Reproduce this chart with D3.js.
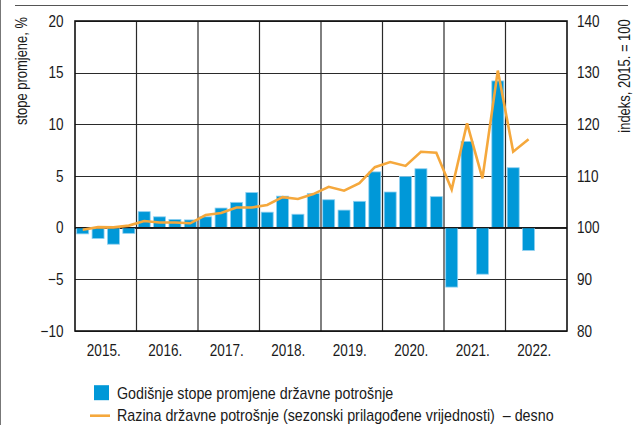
<!DOCTYPE html>
<html><head><meta charset="utf-8">
<script src="https://cdn.jsdelivr.net/npm/d3@7"></script>
<style>
html,body{margin:0;padding:0;background:#fff;}
svg{display:block;}
text{font-family:"Liberation Sans",Arial,sans-serif;fill:#1a1a1a;white-space:pre;}
</style></head>
<body>
<svg id="chart" width="637" height="425"></svg>
<script>
const years = ["2015.","2016.","2017.","2018.","2019.","2020.","2021.","2022."];
const quarters = [];
years.forEach(y => { for (let q = 1; q <= 4; q++) quarters.push(y + "Q" + q); });
const growthRates = [-0.6,-1.05,-1.6,-0.55, 1.55,1.05,0.8,0.75, 1.05,1.9,2.45,3.4, 1.5,3.05,1.3,3.3, 2.7,1.7,2.55,5.4, 3.45,4.95,5.7,3.0, -5.75,8.35,-4.5,14.2, 5.8,-2.2];
const levelIndex = [99.6,100.1,100.05,100.4, 101.3,101.0,101.0,100.85, 102.45,102.85,103.9,103.9, 104.4,105.9,105.55,106.5, 107.9,107.15,108.6,111.7, 112.7,111.95,114.7,114.5, 107.4,120.2,109.55,130.4, 114.7,117.1];
const leftTicks = [-10,-5,0,5,10,15,20];
const rightTicks = [80,90,100,110,120,130,140];
const leftTitle = "stope promjene, %";
const rightTitle = "indeks, 2015. = 100";
const legendBars = "Godišnje stope promjene državne potrošnje";
const legendLine = "Razina državne potrošnje (sezonski prilagođene vrijednosti)  – desno";

const svg = d3.select("#chart");
const L = 75, R = 567, T = 21, B = 331;
const barColor = "#0098d8", lineColor = "#f5a83c";

const xq = d3.scaleBand().domain(quarters).range([L, R]).paddingInner(0.22).paddingOuter(0.11);
const xy = d3.scaleBand().domain(years).range([L, R]);
const yL = d3.scaleLinear().domain([-10, 20]).range([B, T]);
const yR = d3.scaleLinear().domain([80, 140]).range([B, T]);

function narrow(k) {
  return sel => sel.each(function () {
    const w = this.getComputedTextLength();
    d3.select(this).attr("textLength", w * k).attr("lengthAdjust", "spacingAndGlyphs");
  });
}

// outer decorations
svg.append("line").attr("x1",0.5).attr("x2",0.5).attr("y1",0).attr("y2",425).attr("stroke","#777").attr("stroke-width",1);
svg.append("line").attr("x1",15).attr("x2",628).attr("y1",5.5).attr("y2",5.5).attr("stroke","#555").attr("stroke-width",1);

// horizontal grid
svg.append("g").selectAll("line").data(leftTicks).join("line")
  .attr("x1", L).attr("x2", R)
  .attr("y1", d => Math.round(yL(d)) + 0.5).attr("y2", d => Math.round(yL(d)) + 0.5)
  .attr("stroke", "#2a2a2a").attr("stroke-width", 1.2);
// vertical grid at year boundaries
svg.append("g").selectAll("line").data(years.slice(1)).join("line")
  .attr("x1", d => xy(d)).attr("x2", d => xy(d))
  .attr("y1", T).attr("y2", B)
  .attr("stroke", "#2a2a2a").attr("stroke-width", 1.2);

// bars
const dataBars = growthRates.map((v, i) => ({q: quarters[i], v}));
svg.append("g").selectAll("rect").data(dataBars).join("rect")
  .attr("x", d => xq(d.q))
  .attr("width", xq.bandwidth())
  .attr("y", d => yL(Math.max(0, d.v)))
  .attr("height", d => Math.abs(yL(d.v) - yL(0)))
  .attr("fill", barColor)
  .attr("stroke", "#8fd0f0").attr("stroke-width", 0.8);

// zero line
svg.append("line").attr("x1", L).attr("x2", R).attr("y1", yL(0)).attr("y2", yL(0))
  .attr("stroke", "#1a1a1a").attr("stroke-width", 1.4);

// line
const dataLine = levelIndex.map((v, i) => ({q: quarters[i], v}));
svg.append("path").datum(dataLine)
  .attr("fill", "none").attr("stroke", lineColor).attr("stroke-width", 2.6)
  .attr("stroke-linejoin", "miter")
  .attr("d", d3.line().x(d => xq(d.q) + xq.bandwidth() / 2).y(d => yR(d.v)));

// frame
svg.append("rect").attr("x", L).attr("y", T).attr("width", R - L).attr("height", B - T)
  .attr("fill", "none").attr("stroke", "#111").attr("stroke-width", 1.6);

// axes
const fs = 16.5;
const axL = svg.append("g").attr("transform", `translate(${L},0)`)
  .call(d3.axisLeft(yL).tickValues(leftTicks).tickSize(0).tickPadding(11.5)
    .tickFormat(d => d < 0 ? "\u2212" + Math.abs(d) : d));
axL.select(".domain").remove();
axL.selectAll("text").attr("font-size", fs).attr("font-family", null).call(narrow(0.82));

const axR = svg.append("g").attr("transform", `translate(${R},0)`)
  .call(d3.axisRight(yR).tickValues(rightTicks).tickSize(0).tickPadding(10));
axR.select(".domain").remove();
axR.selectAll("text").attr("font-size", fs).attr("font-family", null).call(narrow(0.82));

const axB = svg.append("g").attr("transform", `translate(0,${B})`)
  .call(d3.axisBottom(xy).tickSize(0).tickPadding(13));
axB.select(".domain").remove();
axB.selectAll("text").attr("font-size", fs).attr("font-family", null).attr("dx", -2).call(narrow(0.82));

// axis titles (horizontally condensed via scale)
svg.append("text").attr("transform", "translate(27,71) rotate(-90) scale(0.82,1)")
  .attr("text-anchor", "middle").attr("font-size", 15.8).text(leftTitle);
svg.append("text").attr("transform", "translate(630,76) rotate(-90) scale(0.82,1)")
  .attr("text-anchor", "middle").attr("font-size", 15.8).text(rightTitle);

// legend
const lg = svg.append("g").attr("transform", "translate(0,-2.8)");
lg.append("rect").attr("x", 94).attr("y", 388).attr("width", 15).attr("height", 15).attr("fill", barColor);
lg.append("text").attr("x", 117).attr("y", 402.3).attr("font-size", 17).text(legendBars).call(narrow(0.84));
lg.append("line").attr("x1", 90).attr("x2", 110).attr("y1", 418.5).attr("y2", 418.5)
  .attr("stroke", lineColor).attr("stroke-width", 2.6);
lg.append("text").attr("x", 117).attr("y", 423.8).attr("font-size", 17).text(legendLine).call(narrow(0.84));
</script>
</body></html>
